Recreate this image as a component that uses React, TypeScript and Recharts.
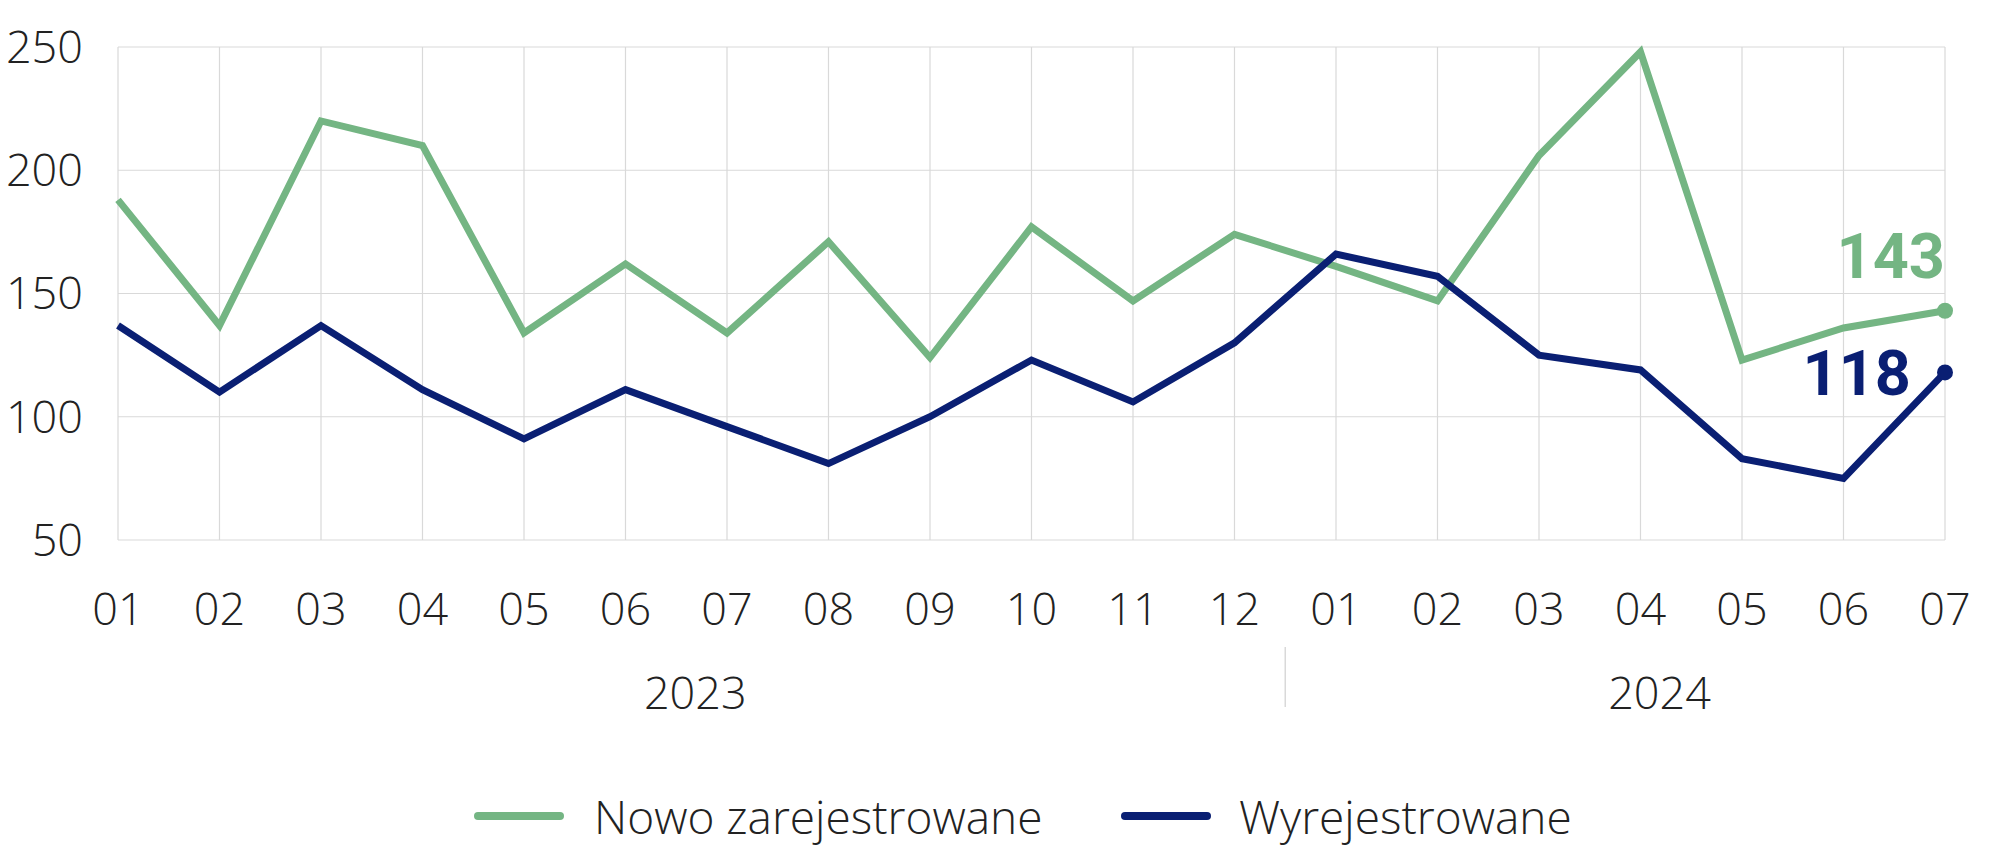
import React from "react";
import { LineChart, Line, XAxis, YAxis, CartesianGrid, Legend } from "recharts";

const months = ["01","02","03","04","05","06","07","08","09","10","11","12","01","02","03","04","05","06","07"];
const nowoZarejestrowane = [188,137,220,210,134,162,134,171,124,177,147,174,161,147,206,248,123,136,143];
const wyrejestrowane = [137,110,137,111,91,111,96,81,100,123,106,130,166,157,125,119,83,75,118];
const years = ["2023", "2024"];
const yearStart = [0, 12];
const yearEnd = [11, 18];
const yTicks = [50, 100, 150, 200, 250];

const GREEN = "#74B583";
const NAVY = "#0A1F73";
const TEXT = "#222222";
const FONT = "'Open Sans', Roboto, sans-serif";
const BOLD_FONT = "Roboto, 'Open Sans', sans-serif";

const data = months.map((m, i) => ({ idx: i, month: m, nowo: nowoZarejestrowane[i], wyrej: wyrejestrowane[i] }));
const lastIndex = months.length - 1;

const yearCenters = years.map((_, i) => (yearStart[i] + yearEnd[i]) / 2);
const separators = years.slice(1).map((_, i) => (yearEnd[i] + yearStart[i + 1]) / 2);
const yearTicks = [...yearCenters, ...separators].sort((a, b) => a - b);

const YearTick = (props: any) => {
  const { x, y, payload } = props;
  const v = payload.value;
  const si = separators.indexOf(v);
  if (si >= 0) {
    return <line x1={x} x2={x} y1={y - 30} y2={y + 30} stroke="#d9d9d9" strokeWidth={1.5} />;
  }
  const yi = yearCenters.indexOf(v);
  return (
    <text x={x + 19} y={y} dy="0.71em" textAnchor="middle" fill={TEXT} fontSize={45} fontWeight={300} fontFamily={FONT}>
      {years[yi]}
    </text>
  );
};

const makeDot = (color: string) => (props: any) => {
  const { cx, cy, index } = props;
  if (index !== lastIndex) return <g key={`d${index}`} />;
  return <circle key={`d${index}`} cx={cx} cy={cy} r={8} fill={color} />;
};

const greenLabel = (props: any) => {
  const { x, y, value, index } = props;
  if (index !== lastIndex) return <g key={`l${index}`} />;
  return (
    <text key={`l${index}`} x={x} y={y - 55} dy="0.355em" textAnchor="end" fill={GREEN} fontSize={63} fontWeight={700} fontFamily={BOLD_FONT}>
      {value}
    </text>
  );
};

const navyLabel = (props: any) => {
  const { x, y, value, index } = props;
  if (index !== lastIndex) return <g key={`l${index}`} />;
  return (
    <text key={`l${index}`} x={x - 34} y={y} dy="0.355em" textAnchor="end" fill={NAVY} fontSize={63} fontWeight={700} fontFamily={BOLD_FONT}>
      {value}
    </text>
  );
};

const legendItems = [
  { name: "Nowo zarejestrowane", color: GREEN, lineLeft: 474, textLeft: 594 },
  { name: "Wyrejestrowane", color: NAVY, lineLeft: 1121, textLeft: 1239 },
];

const renderLegend = () => (
  <div style={{ position: "relative", height: 116, width: 1945 }}>
    {legendItems.map((it) => (
      <React.Fragment key={it.name}>
        <div style={{ position: "absolute", left: it.lineLeft, top: 82, width: 90, height: 8, borderRadius: 4, background: it.color }} />
        <span style={{ position: "absolute", left: it.textLeft, top: 86, transform: "translateY(-50%)", fontSize: 46, fontWeight: 300, lineHeight: 1, color: TEXT, fontFamily: FONT, whiteSpace: "nowrap" }}>
          {it.name}
        </span>
      </React.Fragment>
    ))}
  </div>
);

export default function App() {
  return (
    <div style={{ position: "absolute", left: 0, top: 0, width: 1989, height: 846, background: "#fff", fontFamily: FONT }}>
      <LineChart width={1989} height={846} data={data} margin={{ top: 47, right: 44, bottom: 0, left: 0 }}>
        <CartesianGrid stroke="#d9d9d9" strokeWidth={1.2} horizontal vertical />
        <XAxis
          dataKey="idx"
          type="number"
          domain={[0, lastIndex]}
          ticks={months.map((_, i) => i)}
          tickFormatter={(v: number) => months[v]}
          axisLine={false}
          tickLine={false}
          tickSize={0}
          tickMargin={53}
          height={80}
          interval={0}
          tick={{ fill: TEXT, fontSize: 45, fontWeight: 300, fontFamily: FONT }}
        />
        <XAxis
          xAxisId="year"
          dataKey="idx"
          type="number"
          domain={[0, lastIndex]}
          ticks={yearTicks}
          axisLine={false}
          tickLine={false}
          tickSize={0}
          tickMargin={57}
          height={110}
          interval={0}
          tick={<YearTick />}
        />
        <YAxis
          domain={[50, 250]}
          ticks={yTicks}
          axisLine={false}
          tickLine={false}
          tickSize={0}
          tickMargin={35}
          width={118}
          interval={0}
          tick={{ fill: TEXT, fontSize: 45, fontWeight: 300, fontFamily: FONT }}
        />
        <Legend verticalAlign="bottom" height={116} content={renderLegend} />
        <Line type="linear" dataKey="nowo" name="Nowo zarejestrowane" stroke={GREEN} strokeWidth={7} dot={makeDot(GREEN)} activeDot={false} label={greenLabel} isAnimationActive={false} />
        <Line type="linear" dataKey="wyrej" name="Wyrejestrowane" stroke={NAVY} strokeWidth={7} dot={makeDot(NAVY)} activeDot={false} label={navyLabel} isAnimationActive={false} />
      </LineChart>
    </div>
  );
}
